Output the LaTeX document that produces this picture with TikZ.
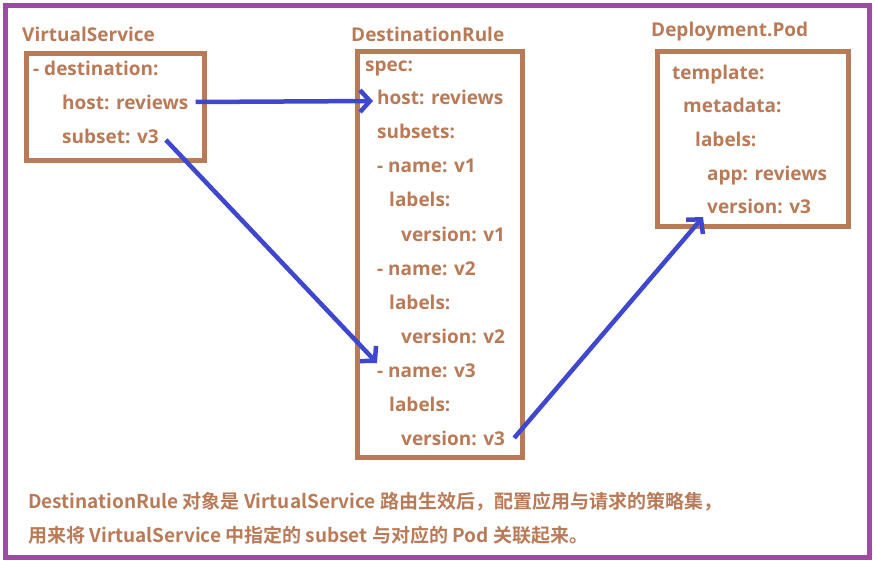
\documentclass[tikz,border=0pt]{standalone}
\usepackage{fontspec}
\setmainfont{Open Sans}[BoldFont={Open Sans Bold}]
\newfontfamily\cjkfont{Noto Sans CJK SC}[BoldFont={Noto Sans CJK SC Bold}]
\usetikzlibrary{arrows.meta}
\definecolor{brownc}{HTML}{B97A57}
\definecolor{purplec}{HTML}{A349A4}
\definecolor{bluec}{HTML}{3F48CC}
\begin{document}
\begin{tikzpicture}[x=1pt,y=-1pt,
  code/.style={anchor=base west,inner sep=0pt,text=brownc,font=\fontsize{19}{22}\selectfont\bfseries},
  title/.style={code},
  frame/.style={draw=brownc,line width=5pt},
  link/.style={draw=bluec,line width=4.5pt,-{Straight Barb[length=10pt,width=22pt,line width=4.5pt]}},
  note/.style={anchor=base west,inner sep=0pt,text=brownc,font=\cjkfont\fontsize{19}{22}\selectfont\bfseries}]
\useasboundingbox (0,0) rectangle (875,564);
\draw[purplec,line width=5pt] (5.5,5.5) rectangle (869.5,557);
% boxes
\draw[frame] (26.5,53.5) rectangle (204.5,160.5);
\draw[frame] (357.5,51.5) rectangle (522.5,457.5);
\draw[frame] (657.5,51.5) rectangle (848.5,226.5);
% titles
\node[title] (vst) at (22,42) {VirtualService};
\node[title] (drt) at (351,42) {DestinationRule};
\node[title] (pdt) at (651,37) {Deployment.Pod};
% VirtualService
\node[code] (vsdest) at (33,76) {- destination:};
\node[code] (vshost) at (62,110) {host: reviews};
\node[code] (vssub) at (62,144) {subset: v3};
% DestinationRule
\node[code] (drspec) at (365,72) {spec:};
\node[code] (drhost) at (377,105) {host: reviews};
\node[code] (drsubs) at (377,139) {subsets:};
\node[code] (drn1) at (377,173) {- name: v1};
\node[code] (drl1) at (389,207) {labels:};
\node[code] (drv1) at (401,241) {version: v1};
\node[code] (drn2) at (377,275) {- name: v2};
\node[code] (drl2) at (389,309) {labels:};
\node[code] (drv2) at (401,343) {version: v2};
\node[code] (drn3) at (377,377) {- name: v3};
\node[code] (drl3) at (389,411) {labels:};
\node[code] (drv3) at (401,445) {version: v3};
% Pod
\node[code] (pdtmp) at (672,80) {template:};
\node[code] (pdmeta) at (683,113) {metadata:};
\node[code] (pdlab) at (695,147) {labels:};
\node[code] (pdapp) at (707,181) {app: reviews};
\node[code] (pdver) at (707,214) {version: v3};
% arrows
\draw[link] ([xshift=7pt,yshift=8pt]vshost.base east) -- ([xshift=-4pt,yshift=4pt]drhost.base west);
\draw[link] ([xshift=7pt,yshift=4pt]vssub.base east) -- ([xshift=0pt,yshift=14pt]drn3.base west);
\draw[link] ([xshift=9pt,yshift=7pt]drv3.base east) -- ([xshift=-4pt,yshift=-3pt]pdver.base west);
% note
\node[note] (n1) at (28,508) {DestinationRule 对象是 VirtualService 路由生效后，配置应用与请求的策略集，};
\node[note] (n2) at (28,542) {用来将 VirtualService 中指定的 subset 与对应的 Pod 关联起来。};
\end{tikzpicture}
\end{document}
